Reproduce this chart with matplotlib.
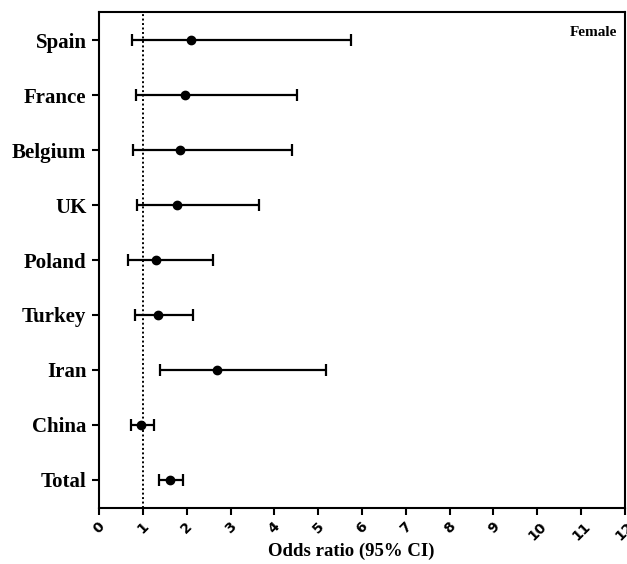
import matplotlib
matplotlib.use("Agg")
import matplotlib.pyplot as plt

countries = ["Spain", "France", "Belgium", "UK", "Poland", "Turkey", "Iran", "China", "Total"]
odds = [2.09, 1.96, 1.84, 1.78, 1.31, 1.34, 2.70, 0.95, 1.62]
lower = [0.76, 0.85, 0.77, 0.87, 0.66, 0.83, 1.40, 0.72, 1.37]
upper = [5.74, 4.52, 4.40, 3.64, 2.61, 2.15, 5.19, 1.25, 1.92]
xticks = list(range(0, 13))

fig = plt.figure(figsize=(6.27, 5.64), dpi=100)
ax = fig.add_axes([99 / 627, 1 - 508 / 564, (625 - 99) / 627, (508 - 12) / 564])

n = len(countries)
ypos = [n - 1 - i for i in range(n)]
xerr = [[o - l for o, l in zip(odds, lower)], [u - o for o, u in zip(odds, upper)]]

ax.axvline(1, color="black", linestyle=(0, (1, 1.3)), linewidth=1.4, zorder=1)
ax.errorbar(odds, ypos, xerr=xerr, fmt="o", color="black", ecolor="black",
            elinewidth=1.6, capsize=4.0, capthick=1.6, markersize=6, zorder=3)

ax.set_xlim(0, 12)
ax.set_ylim(-0.51, 8.51)
ax.set_xticks(xticks)
ax.set_xticklabels([str(t) for t in xticks], rotation=45, ha="center", va="top",
                   fontsize=10, family="DejaVu Sans", fontweight="semibold")
ax.set_yticks(ypos)
ax.set_yticklabels(countries, fontsize=15, family="Liberation Serif", fontweight="bold")
for s in ax.spines.values():
    s.set_linewidth(1.5)
ax.tick_params(axis="both", direction="out", width=1.5, length=5)
ax.tick_params(axis="y", pad=4)
ax.tick_params(axis="x", pad=3)
ax.set_xlabel("Odds ratio (95% CI)", fontsize=13.5, family="Liberation Serif",
              fontweight="bold", va="center")
ax.xaxis.set_label_coords(0.5 - 0.02, -(551 - 508) / 496)
ax.text(0.985, 0.958, "Female", transform=ax.transAxes, ha="right", va="center",
        fontsize=11, family="Liberation Serif", fontweight="bold")

fig.savefig("out.png", dpi=100)
